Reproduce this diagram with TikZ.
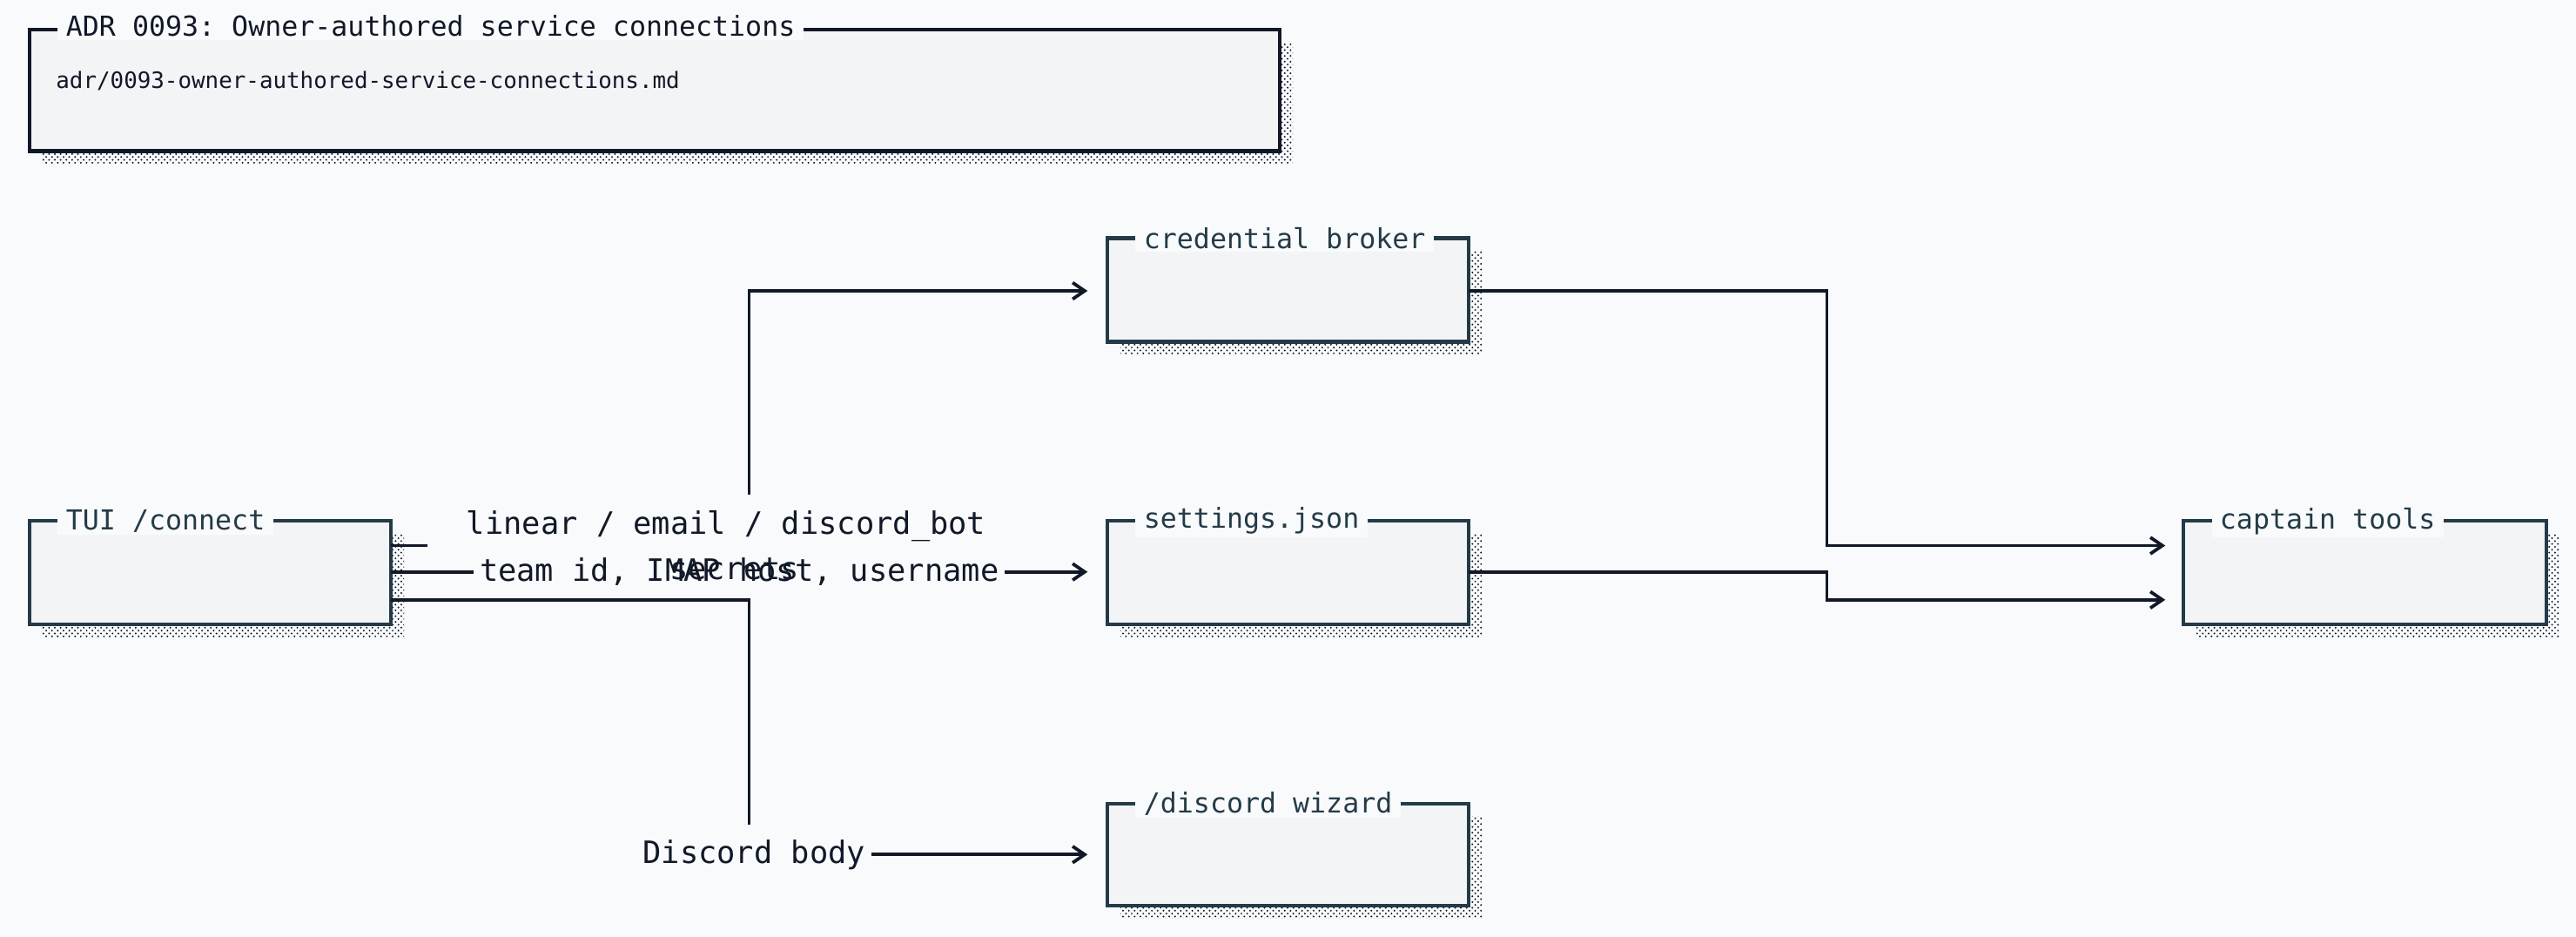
\documentclass[tikz,border=0pt]{standalone}
\usepackage{fontspec}
\setmonofont{DejaVu Sans Mono}
\usetikzlibrary{patterns,arrows.meta}
\definecolor{bg}{HTML}{F8FAFC}
\definecolor{boxf}{HTML}{F3F4F6}
\definecolor{bord}{HTML}{243B47}
\definecolor{ink}{HTML}{111827}
\tikzset{
  box/.style={draw=bord,line width=0.7mm,fill=boxf},
  shad/.style={pattern=crosshatch dots,pattern color=ink},
  ttl/.style={anchor=west,fill=bg,inner xsep=1.5mm,inner ysep=0.5mm,font=\ttfamily\fontsize{14.3}{16}\selectfont,text=bord},
  lbl/.style={font=\ttfamily\fontsize{16}{18}\selectfont,text=ink,inner sep=1mm},
  wire/.style={draw=ink,line width=0.6mm},
  arr/.style={wire,-{Straight Barb[length=2.2mm,width=3mm]}}
}
\begin{document}
\begin{tikzpicture}[x=0.3mm,y=-0.3mm]
\fill[bg] (0,0) rectangle (1568,570);
\useasboundingbox (0,0) rectangle (1568,570);
\newcommand{\mybox}[6]{%
  \fill[shad] (#2+8,#3+8) rectangle (#4+8,#5+8);
  \draw[box] (#2,#3) rectangle (#4,#5);
  \coordinate (#1) at ({(#2+#4)/2},{(#3+#5)/2});
  \node[ttl] (#1t) at (#2+17,#3) {#6};}
% ADR
\fill[shad] (26,26) rectangle (787,100);
\draw[draw=ink,line width=0.7mm,fill=boxf] (18,18) rectangle (779,92);
\node[ttl,text=ink] (adrt) at (35,16) {ADR 0093: Owner-authored service connections};
\node[anchor=west,font=\ttfamily\fontsize{11.7}{13}\selectfont,text=ink] (adrp) at (30,49) {adr/0093-owner-authored-service-connections.md};
\mybox{cb}{674}{145}{894}{208}{credential broker}
\mybox{sj}{674}{317}{894}{380}{settings.json}
\mybox{dw}{674}{489}{894}{551}{/discord wizard}
\mybox{tui}{18}{317}{238}{380}{TUI /connect}
\mybox{ct}{1329}{317}{1550}{380}{captain tools}
% labels
\node[lbl] (sec) at (447,346) {secrets};
\node[lbl] (l1) at (442,320) {linear / email / discord\_bot};
\node[lbl] (l2) at (450,348) {team id, IMAP host, username};
\node[lbl] (l3) at (459,520) {Discord body};
% edges
\draw[wire] (238,332) -- (260,332);
\draw[arr] (456,301) -- (456,177) -- (662,177);
\draw[wire] (238,348) -- (l2.west);
\draw[arr] (l2.east) -- (662,348);
\draw[wire] (238,365) -- (456,365) -- (456,502);
\draw[arr] (l3.east) -- (662,520);
\draw[arr] (894,177) -- (1112,177) -- (1112,332) -- (1318,332);
\draw[arr] (894,348) -- (1112,348) -- (1112,365) -- (1318,365);
\end{tikzpicture}
\end{document}
